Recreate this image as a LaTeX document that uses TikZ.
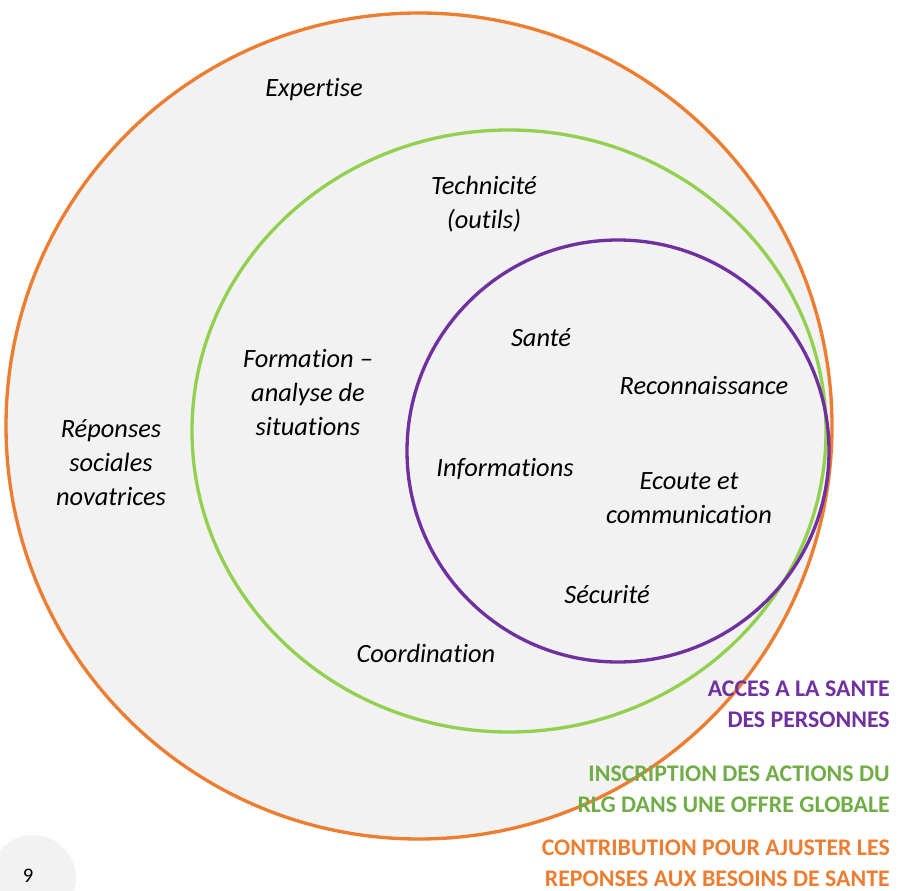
\documentclass[tikz,border=0pt]{standalone}
\usepackage{fontspec}
\setmainfont{Carlito}[Ligatures=NoCommon]
\usetikzlibrary{shapes.geometric}
\definecolor{orng}{HTML}{ED7D31}
\definecolor{grn}{HTML}{92D050}
\definecolor{grnlbl}{HTML}{70AD47}
\definecolor{purp}{HTML}{7030A0}
\definecolor{bggray}{HTML}{F2F2F2}
\tikzset{
  ring/.style={inner sep=0pt, outer sep=0pt, line width=2.5pt},
  lbl/.style={font=\itshape\fontsize{19.8}{25.5}\selectfont, align=center, inner sep=0pt, text=black},
  caps/.style={font=\bfseries\fontsize{17.9}{23.25}\selectfont, align=right, inner sep=0pt, anchor=base east},
}
\begin{document}
\begin{tikzpicture}[x=0.75pt,y=-0.75pt]
\useasboundingbox (0,0) rectangle (899,891);
% page number disc
\node[circle, fill=bggray, minimum size=64.5pt, inner sep=0pt] (pgdisc) at (33,878) {};
\node[font=\fontsize{15.5}{18}\selectfont, inner sep=0pt] (pgnum) at (28,876) {9};
% circles
\node[ring, circle, draw=orng, fill=bggray, minimum size=619.5pt] (outer) at (419,426) {};
\node[ring, ellipse, draw=grn, minimum width=475.5pt, minimum height=451.5pt] (middle) at (509,431) {};
\node[ring, circle, draw=purp, minimum size=316.5pt] (inner) at (618,451) {};
% outer ring texts
\node[lbl] (expertise) at (314,90) {Expertise};
\node[lbl] (reponses) at (111,463) {Réponses\\sociales\\novatrices};
% middle ring texts
\node[lbl] (technicite) at (484,204) {Technicité\\(outils)};
\node[lbl] (formation) at (308,393) {Formation –\\analyse de\\situations};
\node[lbl] (coordination) at (426,653) {Coordination};
% inner ring texts
\node[lbl] (sante) at (541,338) {Santé};
\node[lbl] (reconnaissance) at (704,386) {Reconnaissance};
\node[lbl] (informations) at (505,469) {Informations};
\node[lbl] (ecoute) at (689,498) {Ecoute et\\communication};
\node[lbl] (securite) at (607,595) {Sécurité};
% legend labels
\node[caps, text=purp] (acces) at (890,727) {ACCES A LA SANTE\\DES PERSONNES};
\node[caps, text=grnlbl] (inscription) at (890,812) {INSCRIPTION DES ACTIONS DU\\RLG DANS UNE OFFRE GLOBALE};
\node[caps, text=orng] (contribution) at (890,886) {CONTRIBUTION POUR AJUSTER LES\\REPONSES AUX BESOINS DE SANTE};
\end{tikzpicture}
\end{document}
